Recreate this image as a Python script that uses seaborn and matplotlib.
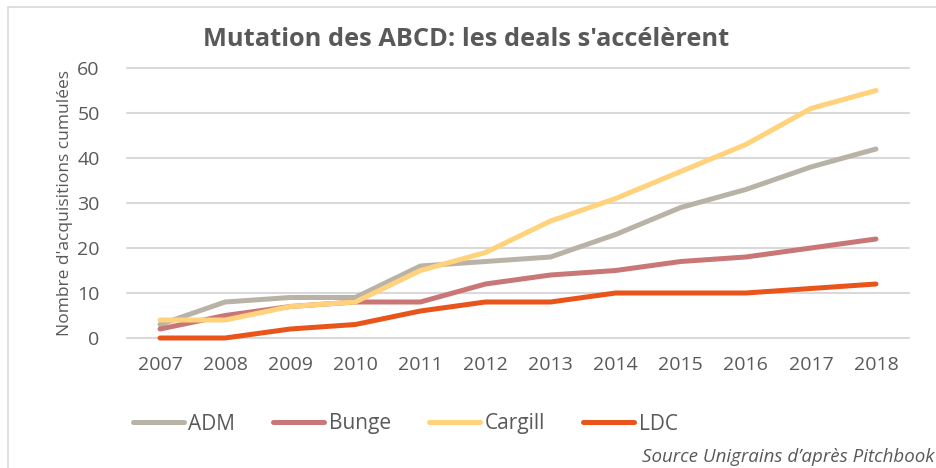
import matplotlib
matplotlib.use("Agg")
import matplotlib.pyplot as plt
import seaborn as sns
import pandas as pd
from matplotlib.patches import Rectangle

years = [2007, 2008, 2009, 2010, 2011, 2012, 2013, 2014, 2015, 2016, 2017, 2018]
adm = [3, 8, 9, 9, 16, 17, 18, 23, 29, 33, 38, 42]
bunge = [2, 5, 7, 8, 8, 12, 14, 15, 17, 18, 20, 22]
cargill = [4, 4, 7, 8, 15, 19, 26, 31, 37, 43, 51, 55]
ldc = [0, 0, 2, 3, 6, 8, 8, 10, 10, 10, 11, 12]
series_names = ["ADM", "Bunge", "Cargill", "LDC"]
colors = ["#B9B2A7", "#C97677", "#FFD27B", "#E8541A"]
yticks = [0, 10, 20, 30, 40, 50, 60]

title = "Mutation des ABCD: les deals s'accélèrent"
ylabel = "Nombre d'acquisitions cumulées"
source = "Source Unigrains d’après Pitchbook"

sns.set_theme(style="white")
plt.rcParams["font.family"] = ["Open Sans", "DejaVu Sans"]
txt = "#595959"

df = pd.DataFrame({
    "year": years * 4,
    "value": adm + bunge + cargill + ldc,
    "series": sum([[n] * len(years) for n in series_names], []),
})

fig = plt.figure(figsize=(9.36, 4.68), dpi=100)
W, H = 936, 468
ax = fig.add_axes([127.5 / W, 1 - 338 / H, 781 / W, 270 / H])

sns.lineplot(data=df, x="year", y="value", hue="series", palette=colors,
             hue_order=series_names, linewidth=3.6, ax=ax, legend=False,
             solid_capstyle="round")
for ln in ax.get_lines():
    ln.set_clip_on(False)
    ln.set_zorder(3)

ax.set_xlim(2006.5, 2018.5)
ax.set_ylim(0, 60)
ax.set_yticks(yticks)
ax.set_xticks(years)
ax.set_xticklabels([str(y) for y in years])
for s in ax.spines.values():
    s.set_visible(False)
for y in yticks:
    ax.axhline(y, color="#D9D9D9", linewidth=1.5, zorder=1, clip_on=False)
ax.tick_params(axis="both", length=0, labelsize=14, colors=txt)
ax.tick_params(axis="y", pad=20)
ax.tick_params(axis="x", pad=13)
ax.set_xlabel("")
ax.set_ylabel(ylabel, fontsize=12.5, color=txt, labelpad=3)

fig.text(466 / W, 1 - 40 / H, title, ha="center", va="center",
         fontsize=18.3, fontweight="bold", color=txt)

handles = [plt.Line2D([0], [0], color=c, linewidth=3.6, solid_capstyle="round")
           for c in colors]
fig.legend(handles, series_names, loc="center left",
           bbox_to_anchor=(114 / W, 1 - 424 / H), ncol=4, frameon=False,
           fontsize=15, labelcolor=txt, handlelength=2.45, handletextpad=0.2,
           columnspacing=1.85)

fig.text(934 / W, 1 - 457 / H, source, ha="right", va="center",
         fontsize=13.5, style="italic", color=txt)

fig.patches.append(Rectangle((8 / W, -0.05), 1.1, 1 - 7 / H + 0.05,
                             transform=fig.transFigure, fill=False,
                             edgecolor="#D9D9D9", linewidth=1.2))

fig.savefig("out.png", dpi=100)
